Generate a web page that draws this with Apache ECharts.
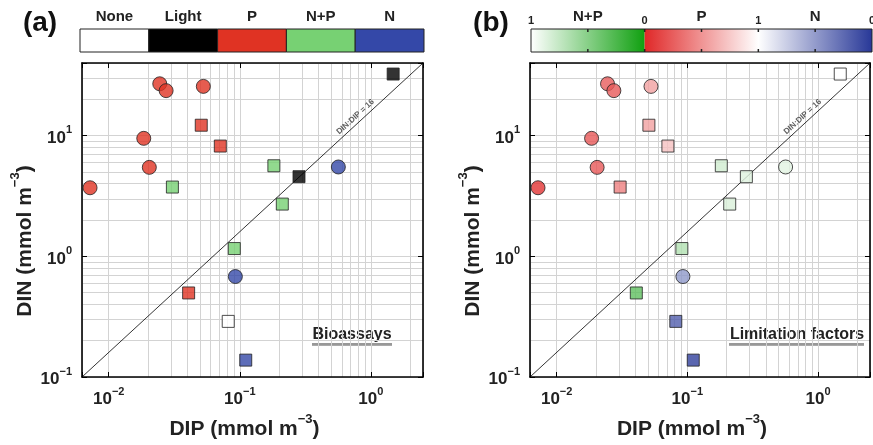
<!DOCTYPE html>
<html>
<head>
<meta charset="utf-8">
<script src="https://cdn.jsdelivr.net/npm/echarts@6/dist/echarts.min.js"></script>
<style>
  html, body { margin: 0; padding: 0; background: #fff; }
  #chart { width: 873px; height: 445px; }
</style>
</head>
<body>
<div id="chart"></div>
<script>
// DIN vs DIP, bioassays (a) and limitation factors (b)

var dip = [0.0072, 0.0185, 0.0204, 0.0245, 0.0274, 0.0527, 0.0508, 0.0710, 0.0306, 1.48,
           0.182, 0.283, 0.565, 0.211, 0.0908, 0.0925, 0.0407, 0.0816, 0.111];
var din = [3.70, 9.5, 5.46, 26.9, 23.6, 25.6, 12.2, 8.2, 3.75, 32.4,
           5.63, 4.57, 5.5, 2.71, 1.16, 0.68, 0.497, 0.289, 0.138];
// A = circles, B = squares
var group = ['A', 'A', 'A', 'A', 'A', 'A', 'B', 'B', 'B', 'B',
             'B', 'B', 'A', 'B', 'B', 'A', 'B', 'B', 'B'];
var bioassay = ['P', 'P', 'P', 'P', 'P', 'P', 'P', 'P', 'N+P', 'Light',
                'N+P', 'Light', 'N', 'N+P', 'N+P', 'N', 'P', 'None', 'N'];
var limType = ['P', 'P', 'P', 'P', 'P', 'P', 'P', 'P', 'P', 'N+P',
               'N+P', 'N+P', 'N+P', 'N+P', 'N+P', 'N', 'N+P', 'N', 'N'];
var limFactor = [0.05, 0.22, 0.22, 0.24, 0.23, 0.56, 0.56, 0.71, 0.41, 1.0,
                 0.80, 0.86, 0.88, 0.84, 0.67, 0.48, 0.33, 0.19, 0.04];

var bioCats = ['None', 'Light', 'P', 'N+P', 'N'];
var limSegs = ['N+P', 'P', 'N'];
var limTicks = ['1', '0', '1', '0'];

var dipRange = [0.00625, 2.5];
var dinRange = [0.1, 40];
var redfield = 16;
var xTickExps = [-2, -1, 0];
var yTickExps = [-1, 0, 1];

var FONT = "'Liberation Sans', Arial, Helvetica, sans-serif";
var gridColor = '#d3d3d3';
var bioColors = { 'None': '#ffffff', 'Light': '#000000', 'P': '#e03323', 'N+P': '#77d173', 'N': '#3448a8' };
var limBase = { 'N+P': [16, 160, 16], 'P': [224, 40, 40], 'N': [40, 56, 152] };

function limColor(type, f) {
  var c = limBase[type];
  var r = c.map(function (v) { return Math.round(v + (255 - v) * f); });
  return 'rgb(' + r.join(',') + ')';
}

function minorValues(range) {
  var out = [];
  for (var d = -4; d <= 2; d++) {
    for (var m = 2; m <= 9; m++) {
      var v = m * Math.pow(10, d);
      if (v > range[0] && v < range[1]) out.push(v);
    }
  }
  return out;
}

var richTick = {
  b: { fontFamily: FONT, fontSize: 17, fontWeight: 'bold', color: '#222', lineHeight: 22, verticalAlign: 'bottom' },
  s: { fontFamily: FONT, fontSize: 11, fontWeight: 'bold', color: '#222', lineHeight: 12, verticalAlign: 'top' }
};
var richName = {
  t: { fontFamily: FONT, fontSize: 21, fontWeight: 'bold', color: '#222', lineHeight: 27, verticalAlign: 'bottom' },
  s: { fontFamily: FONT, fontSize: 13, fontWeight: 'bold', color: '#222', lineHeight: 14, verticalAlign: 'top' }
};

function tickFmt(exps) {
  return function (v) {
    var e = Math.log10(v);
    var r = Math.round(e);
    if (Math.abs(e - r) > 1e-6 || exps.indexOf(r) < 0) return '';
    return '{b|10}{s|' + (r < 0 ? '\u2212' + (-r) : r) + '}';
  };
}

function xAx(gi, pos) {
  var main = pos === 'bottom';
  return {
    type: 'log', logBase: 10, gridIndex: gi, position: pos,
    min: dipRange[0], max: dipRange[1],
    axisLine: { show: true, onZero: false, lineStyle: { color: '#000', width: 1.6 } },
    axisTick: { show: true, inside: true, length: 5, lineStyle: { color: '#000' } },
    axisLabel: { show: main, margin: 9, formatter: tickFmt(xTickExps), rich: richTick },
    splitLine: { show: main, lineStyle: { color: gridColor, width: 1 } },
    name: main ? '{t|DIP (mmol m}{s|\u22123}{t|)}' : '',
    nameLocation: 'middle', nameGap: 32,
    nameTextStyle: { rich: richName, padding: [0, 16, 0, 0] }
  };
}

function yAx(gi, pos) {
  var main = pos === 'left';
  return {
    type: 'log', logBase: 10, gridIndex: gi, position: pos,
    min: dinRange[0], max: dinRange[1],
    axisLine: { show: true, onZero: false, lineStyle: { color: '#000', width: 1.6 } },
    axisTick: { show: true, inside: true, length: 5, lineStyle: { color: '#000' } },
    axisLabel: { show: main, margin: 10, formatter: tickFmt(yTickExps), rich: richTick },
    splitLine: { show: main, lineStyle: { color: gridColor, width: 1 } },
    name: main ? '{t|DIN (mmol m}{s|\u22123}{t|)}' : '',
    nameLocation: 'middle', nameGap: 46,
    nameTextStyle: { rich: richName, padding: [0, 42, 0, 0] }
  };
}

function panelSeries(gi, colorOf) {
  var xi = gi * 2, yi = gi * 2;
  var gridLines = minorValues(dipRange).map(function (v) { return { xAxis: v }; })
    .concat(minorValues(dinRange).map(function (v) { return { yAxis: v }; }));
  var labelDip = 0.8;
  return [
    {
      type: 'scatter', xAxisIndex: xi, yAxisIndex: yi, data: [], z: 0, silent: true,
      markLine: {
        z: 0, silent: true, symbol: 'none', animation: false,
        label: { show: false },
        lineStyle: { color: gridColor, width: 1, type: 'solid' },
        data: gridLines
      }
    },
    {
      type: 'line', xAxisIndex: xi, yAxisIndex: yi, z: 2, silent: true,
      symbol: 'none', animation: false,
      lineStyle: { color: '#000', width: 0.8 },
      data: [[dipRange[0], dipRange[0] * redfield], [dipRange[1], dipRange[1] * redfield]]
    },
    {
      type: 'scatter', xAxisIndex: xi, yAxisIndex: yi, z: 2, silent: true,
      symbolSize: 0,
      data: [[labelDip, labelDip * redfield]],
      label: {
        show: true, position: 'top', distance: 3, rotate: 42.6,
        formatter: 'DIN:DIP = ' + redfield,
        fontFamily: FONT, fontSize: 8, fontWeight: 'bold', color: '#333'
      }
    },
    {
      type: 'scatter', xAxisIndex: xi, yAxisIndex: yi, z: 3, animation: false,
      data: dip.map(function (x, i) {
        var circ = group[i] === 'A';
        return {
          value: [x, din[i]],
          symbol: circ ? 'circle' : 'rect',
          symbolSize: circ ? 14 : 12,
          itemStyle: { color: colorOf(i), borderColor: '#222', borderWidth: 1 }
        };
      })
    }
  ];
}

// colour bars and annotations
var graphics = [];
var barA = { x: 80, y: 29, w: 344, h: 23 };
var segW = barA.w / bioCats.length;
bioCats.forEach(function (c, i) {
  graphics.push({
    type: 'rect', shape: { x: barA.x + i * segW, y: barA.y, width: segW, height: barA.h },
    style: { fill: bioColors[c], stroke: '#222', lineWidth: 1 }
  });
  graphics.push({
    type: 'text', x: barA.x + (i + 0.5) * segW, y: 17,
    style: { text: c, font: 'bold 15px ' + FONT, fill: '#222', align: 'center', verticalAlign: 'middle' }
  });
});

var barB = { x: 531, y: 29, w: 341, h: 23 };
var segB = barB.w / limSegs.length;
var gradStops = {
  'N+P': [['#ffffff', 0], [limColor('N+P', 0), 1]],
  'P': [[limColor('P', 0), 0], ['#ffffff', 1]],
  'N': [['#ffffff', 0], [limColor('N', 0), 1]]
};
limSegs.forEach(function (s, i) {
  graphics.push({
    type: 'rect', shape: { x: barB.x + i * segB, y: barB.y, width: segB, height: barB.h },
    style: {
      fill: {
        type: 'linear', x: 0, y: 0, x2: 1, y2: 0,
        colorStops: gradStops[s].map(function (st) { return { offset: st[1], color: st[0] }; })
      },
      stroke: null
    }
  });
  graphics.push({
    type: 'text', x: barB.x + (i + 0.5) * segB, y: 17,
    style: { text: s, font: 'bold 15px ' + FONT, fill: '#222', align: 'center', verticalAlign: 'middle' }
  });
});
graphics.push({
  type: 'rect', shape: { x: barB.x, y: barB.y, width: barB.w, height: barB.h },
  style: { fill: null, stroke: '#222', lineWidth: 1 }
});
for (var k = 0; k <= 6; k++) {
  var tx = barB.x + k * segB / 2;
  if (k > 0 && k < 6) {
    graphics.push({ type: 'line', shape: { x1: tx, y1: barB.y, x2: tx, y2: barB.y + 3 }, style: { stroke: '#222', lineWidth: 1.5 } });
    graphics.push({ type: 'line', shape: { x1: tx, y1: barB.y + barB.h - 3, x2: tx, y2: barB.y + barB.h }, style: { stroke: '#222', lineWidth: 1.5 } });
  }
  if (k % 2 === 0) {
    graphics.push({
      type: 'text', x: tx, y: 21,
      style: { text: limTicks[k / 2] !== undefined ? limTicks[k / 2] : '0', font: 'bold 11px ' + FONT, fill: '#222', align: 'center', verticalAlign: 'middle' }
    });
  }
}

[['(a)', 40], ['(b)', 491]].forEach(function (p) {
  graphics.push({
    type: 'text', x: p[1], y: 23,
    style: { text: p[0], font: 'bold 28px ' + FONT, fill: '#111', align: 'center', verticalAlign: 'middle' }
  });
});

[['Bioassays', 352, 312, 392], ['Limitation factors', 797, 729, 864]].forEach(function (t) {
  graphics.push({
    type: 'text', x: t[1], y: 335,
    style: { text: t[0], font: 'bold 16px ' + FONT, fill: '#222', align: 'center', verticalAlign: 'middle' }
  });
  graphics.push({ type: 'line', shape: { x1: t[2], y1: 345.5, x2: t[3], y2: 345.5 }, style: { stroke: '#aaa', lineWidth: 1 } });
  graphics.push({ type: 'line', shape: { x1: t[2], y1: 344, x2: t[3], y2: 344 }, style: { stroke: '#333', lineWidth: 1.2 } });
});

var chart = echarts.init(document.getElementById('chart'), null, { renderer: 'canvas' });
chart.setOption({
  animation: false,
  backgroundColor: '#fff',
  grid: [
    { left: 82, top: 63, width: 341, height: 314 },
    { left: 530, top: 63, width: 340, height: 314 }
  ],
  xAxis: [xAx(0, 'bottom'), xAx(0, 'top'), xAx(1, 'bottom'), xAx(1, 'top')],
  yAxis: [yAx(0, 'left'), yAx(0, 'right'), yAx(1, 'left'), yAx(1, 'right')],
  series: panelSeries(0, function (i) { return bioColors[bioassay[i]]; })
    .concat(panelSeries(1, function (i) { return limColor(limType[i], limFactor[i]); })),
  graphic: graphics
});
</script>
</body>
</html>
